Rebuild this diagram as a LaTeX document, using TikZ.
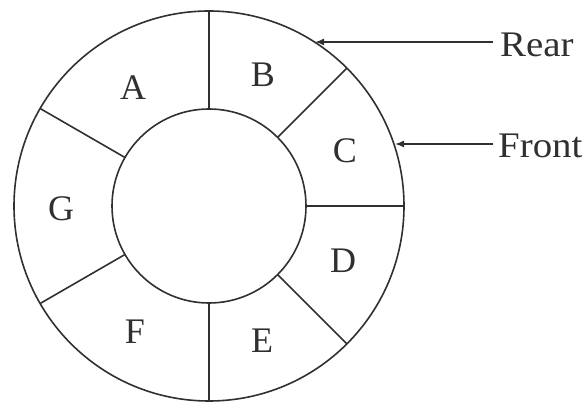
\documentclass[tikz,border=0pt]{standalone}
\usepackage{fontspec}
\setmainfont{Liberation Serif}
\usetikzlibrary{arrows.meta,calc}
\definecolor{ink}{HTML}{303030}
\tikzset{
  ring/.style={draw=ink, line width=1.6pt},
  lbl/.style={text=ink, font=\fontsize{36}{42}\selectfont, inner sep=0pt},
  pointer/.style={draw=ink, line width=1.6pt, -{Latex[length=9pt,width=7pt]}}
}
\begin{document}
\begin{tikzpicture}[x=1pt,y=-1pt]
\useasboundingbox (0,0) rectangle (587,403);
\coordinate (O) at (209,206);
\draw[ring] (O) circle[radius=195];
\draw[ring] (O) circle[radius=97];
\foreach \a in {90,45,0,-45,-90,-150,150}
  \draw[ring] ($(O)+(\a:97)$) -- ($(O)+(\a:195)$);
\node[lbl] (A) at (133,88) {A};
\node[lbl] (B) at (263,75) {B};
\node[lbl] (C) at (345,151) {C};
\node[lbl] (D) at (343,261) {D};
\node[lbl] (E) at (262,341) {E};
\node[lbl] (F) at (135,332) {F};
\node[lbl] (G) at (61,209) {G};
\coordinate (rt) at (315,42);
\coordinate (ft) at (395,144);
\node[lbl, anchor=west, xscale=1.08] (rear) at (500,45) {Rear};
\node[lbl, anchor=west, xscale=1.08] (front) at (498,146) {Front};
\draw[pointer] ($(rear.west)+(-7,-3)$) -- (rt);
\draw[pointer] ($(front.west)+(-5,-2)$) -- (ft);
\end{tikzpicture}
\end{document}
